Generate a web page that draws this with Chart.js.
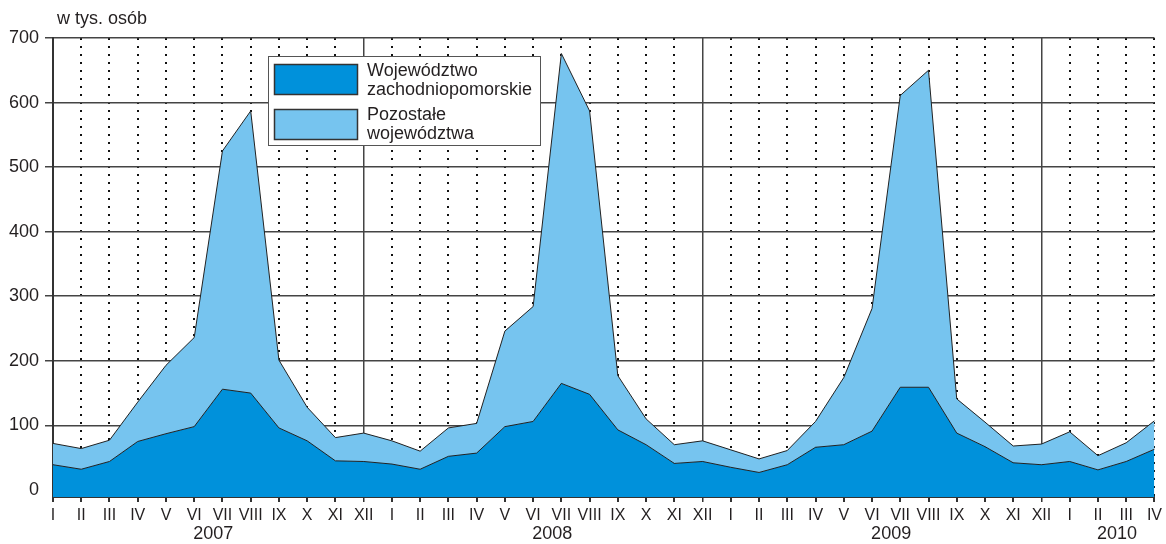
<!DOCTYPE html>
<html>
<head>
<meta charset="utf-8">
<script src="https://cdn.jsdelivr.net/npm/chart.js@4/dist/chart.umd.min.js"></script>
<style>
html,body{margin:0;padding:0;background:#fff}
</style>
</head>
<body>
<canvas id="wykres" width="1166" height="544"></canvas>
<script>
// miesiące 2007 - IV 2010
const miesiace = [
  "I","II","III","IV","V","VI","VII","VIII","IX","X","XI","XII",
  "I","II","III","IV","V","VI","VII","VIII","IX","X","XI","XII",
  "I","II","III","IV","V","VI","VII","VIII","IX","X","XI","XII",
  "I","II","III","IV"
];
const lata = ["2007","2008","2009","2010"];

// w tys. osób
const zachodniopomorskie = [
  39,32,44,75,87,98,156,150,96,76,45,44,
  40,32,52,57,98,106,165,148,93,70,41,44,
  35,27,39,66,70,91,159,159,88,67,42,39,
  44,31,44,63
];
const pozostale = [
  33,32,33,61,106,138,369,437,105,52,36,44,
  36,28,44,46,148,178,511,439,84,40,29,32,
  27,21,22,40,104,190,452,491,53,38,26,32,
  46,22,29,44
];
const podzialkaY = [0,100,200,300,400,500,600,700];

const czcionka = '"Liberation Sans", Arial, sans-serif';
const kolorTekstu = "#231f20";

// Lata pod osią, tytuł osi i legenda
const opisy = {
  id: "opisy",
  afterDraw(chart){
    const c = chart.ctx;
    const x = chart.scales.x;
    c.save();
    c.fillStyle = kolorTekstu;
    c.textBaseline = "middle";

    c.font = "18px " + czcionka;
    c.textAlign = "center";
    lata.forEach((rok,i)=>{
      const a = i*12;
      const b = Math.min(a+11, miesiace.length-1);
      c.fillText(rok, (x.getPixelForValue(a)+x.getPixelForValue(b))/2 + 5, 534);
    });

    c.textAlign = "left";
    c.fillText("w tys. osób", 57, 19);

    // legenda
    c.fillStyle = "#fff";
    c.fillRect(268.5, 56.5, 272, 89);
    c.strokeStyle = "#555";
    c.lineWidth = 1;
    c.strokeRect(268.5, 56.5, 272, 89);

    c.lineWidth = 1.5;
    c.strokeStyle = "#333";
    c.fillStyle = "#0091db";
    c.fillRect(274.5, 64.5, 83, 30);
    c.strokeRect(274.5, 64.5, 83, 30);
    c.fillStyle = "#76c4ef";
    c.fillRect(274.5, 109.5, 83, 30);
    c.strokeRect(274.5, 109.5, 83, 30);

    c.fillStyle = kolorTekstu;
    c.font = "18px " + czcionka;
    c.fillText("Województwo", 367, 71);
    c.fillText("zachodniopomorskie", 367, 90);
    c.fillText("Pozostałe", 367, 115);
    c.fillText("województwa", 367, 134);
    c.restore();
  }
};

new Chart(document.getElementById("wykres"), {
  type: "line",
  data: {
    labels: miesiace,
    datasets: [
      {
        label: "Województwo zachodniopomorskie",
        data: zachodniopomorskie,
        backgroundColor: "#0091db",
        borderColor: "#222",
        borderWidth: 1,
        fill: "start",
        pointRadius: 0,
        tension: 0
      },
      {
        label: "Pozostałe województwa",
        data: pozostale,
        backgroundColor: "#76c4ef",
        borderColor: "#222",
        borderWidth: 1,
        fill: "-1",
        pointRadius: 0,
        tension: 0
      }
    ]
  },
  options: {
    responsive: false,
    animation: false,
    layout: { padding: { top: 38, right: 9, left: 0, bottom: 0 } },
    plugins: { legend: { display: false }, tooltip: { enabled: false } },
    scales: {
      x: {
        stacked: true,
        offset: false,
        z: 1,
        afterFit(s){ s.height = 47; },
        grid: {
          color: ctx => ctx.index % 12 === 11 ? "#444" : "#111",
          lineWidth: ctx => ctx.index % 12 === 11 ? 1.5 : 2,
          tickLength: 5,
          tickColor: "#333"
        },
        border: {
          display: true,
          color: "#333",
          width: 2,
          dash: ctx => ctx.index % 12 === 11 ? [] : [2,6]
        },
        ticks: {
          autoSkip: false,
          maxRotation: 0,
          padding: 4,
          color: kolorTekstu,
          font: { family: czcionka, size: 16 }
        }
      },
      y: {
        stacked: true,
        min: -11,
        max: 700,
        z: 1,
        afterFit(s){ s.width = 53; },
        afterBuildTicks(s){ s.ticks = podzialkaY.map(v=>({value:v})); },
        grid: {
          color: ctx => ctx.tick && ctx.tick.value === 0 ? "rgba(0,0,0,0)" : "#444",
          lineWidth: 1.5,
          tickLength: 8
        },
        border: { display: true, color: "#333", width: 2 },
        ticks: {
          padding: 6,
          color: kolorTekstu,
          font: { family: czcionka, size: 18 }
        }
      }
    }
  },
  plugins: [opisy]
});
</script>
</body>
</html>
